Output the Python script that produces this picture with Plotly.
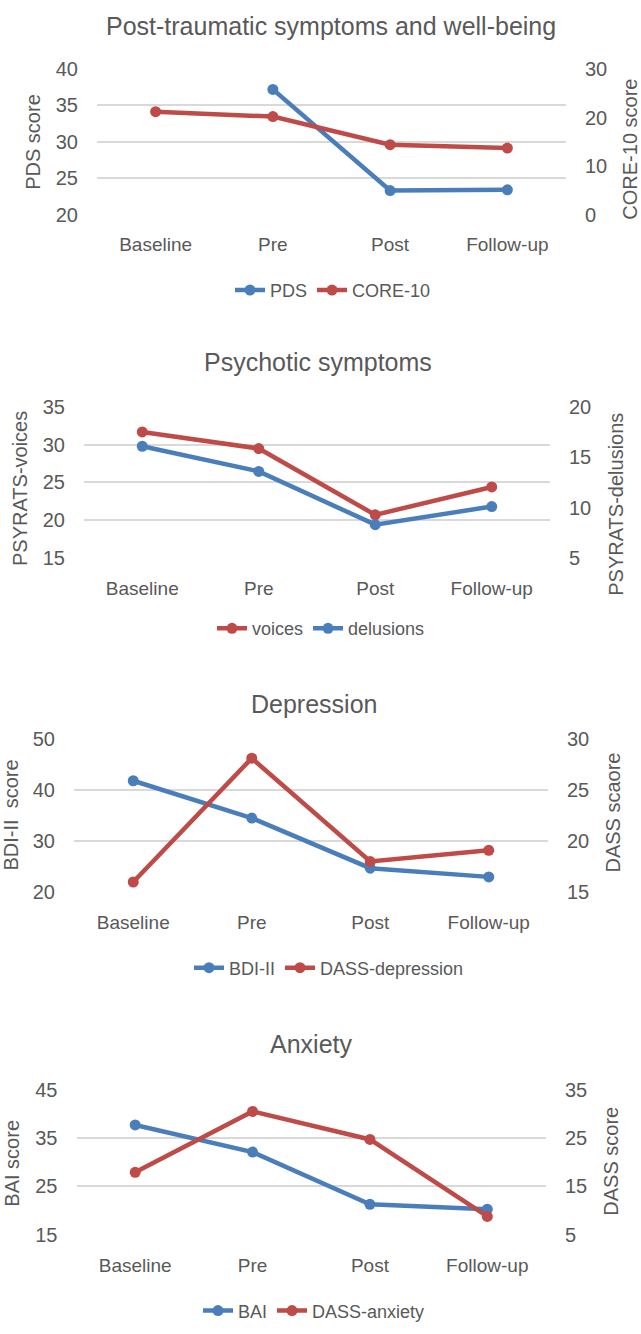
import plotly.graph_objects as go

W, H = 641, 1334

categories = ["Baseline", "Pre", "Post", "Follow-up"]

# Chart 1: Post-traumatic symptoms and well-being
pds = [None, 37.2, 23.3, 23.4]
core10 = [21.2, 20.2, 14.4, 13.7]
# Chart 2: Psychotic symptoms
voices = [31.7, 29.5, 20.7, 24.4]
delusions = [16.1, 13.6, 8.3, 10.1]
# Chart 3: Depression
bdi = [41.8, 34.5, 24.7, 23.0]
dass_dep = [16.0, 28.1, 18.0, 19.1]
# Chart 4: Anxiety
bai = [37.7, 32.1, 21.3, 20.3]
dass_anx = [17.9, 30.5, 24.7, 8.8]

BLUE = "#4a7ebb"
RED = "#be4b48"
GRAY = "#595959"
FONT = "Liberation Sans"

charts = [
    dict(title="Post-traumatic symptoms and well-being",
         left_title="PDS score", right_title="CORE-10 score",
         left_range=[20, 40], left_dtick=5, right_range=[0, 30], right_dtick=10,
         series=[("PDS", pds, BLUE, "left"), ("CORE-10", core10, RED, "right")],
         px=(97, 566), py=(59, 207), title_xy=(331, 15),
         lt_xy=(33, 133), rt_xy=(630, 141), leg_xy=(333, 284)),
    dict(title="Psychotic symptoms",
         left_title="PSYRATS-voices", right_title="PSYRATS-delusions",
         left_range=[15, 35], left_dtick=5, right_range=[5, 20], right_dtick=5,
         series=[("voices", voices, RED, "left"), ("delusions", delusions, BLUE, "right")],
         px=(84, 550), py=(402.7, 556), title_xy=(318, 357),
         lt_xy=(20, 486), rt_xy=(616, 502), leg_xy=(321, 628)),
    dict(title="Depression",
         left_title="BDI-II  score", right_title="DASS scaore",
         left_range=[20, 50], left_dtick=10, right_range=[15, 30], right_dtick=5,
         series=[("BDI-II", bdi, BLUE, "left"), ("DASS-depression", dass_dep, RED, "right")],
         px=(74, 548), py=(740, 896), title_xy=(314, 705),
         lt_xy=(11, 818), rt_xy=(613, 815), leg_xy=(329, 973)),
    dict(title="Anxiety",
         left_title="BAI score", right_title="DASS score",
         left_range=[15, 45], left_dtick=10, right_range=[5, 35], right_dtick=10,
         series=[("BAI", bai, BLUE, "left"), ("DASS-anxiety", dass_anx, RED, "right")],
         px=(76.5, 546), py=(1096.7, 1244.3), title_xy=(311, 1050.7),
         lt_xy=(12, 1172), rt_xy=(611, 1170), leg_xy=(314, 1321.7)),
]

fig = go.Figure()
layout = {}
annotations = []


def fx(x):
    return x / W


def fy(y):
    return 1 - y / H


for i, c in enumerate(charts):
    xn = "" if i == 0 else str(i + 1)
    yl = str(2 * i + 1) if i > 0 else ""
    yr = str(2 * i + 2)
    legname = "legend" if i == 0 else f"legend{i + 1}"
    xdom = [fx(c["px"][0]), fx(c["px"][1])]
    ydom = [fy(c["py"][1]), fy(c["py"][0])]

    layout[f"xaxis{xn}"] = dict(
        domain=xdom, anchor=f"y{yl}", type="category",
        categoryorder="array", categoryarray=categories,
        range=[-0.5, 3.5], showgrid=False, showline=False, zeroline=False,
        ticks="outside", ticklen=13, tickcolor="rgba(0,0,0,0)",
        tickfont=dict(family=FONT, size=19, color=GRAY),
    )
    layout[f"yaxis{yl}"] = dict(
        domain=ydom, anchor=f"x{xn}", range=c["left_range"],
        tick0=c["left_range"][0], dtick=c["left_dtick"],
        showgrid=True, gridcolor="#d9d9d9", gridwidth=2,
        zeroline=False, showline=False,
        ticks="outside", ticklen=14, tickcolor="rgba(0,0,0,0)",
        tickfont=dict(family=FONT, size=20, color=GRAY),
    )
    layout[f"yaxis{yr}"] = dict(
        domain=ydom, anchor=f"x{xn}", overlaying=f"y{yl}", side="right",
        range=c["right_range"], tick0=c["right_range"][0], dtick=c["right_dtick"],
        showgrid=False, zeroline=False, showline=False,
        ticks="outside", ticklen=14, tickcolor="rgba(0,0,0,0)",
        tickfont=dict(family=FONT, size=20, color=GRAY),
    )
    layout[legname] = dict(
        orientation="h", x=fx(c["leg_xy"][0]), xanchor="center",
        y=fy(c["leg_xy"][1]), yanchor="middle", xref="paper", yref="paper",
        font=dict(family=FONT, size=18, color=GRAY),
        bgcolor="rgba(0,0,0,0)", traceorder="normal",
    )

    for name, vals, color, side in c["series"]:
        fig.add_trace(go.Scatter(
            x=categories, y=vals, name=name, mode="lines+markers",
            line=dict(color=color, width=4.5),
            marker=dict(color=color, size=11),
            xaxis=f"x{xn}", yaxis=f"y{yl}" if side == "left" else f"y{yr}",
            legend=legname, cliponaxis=False, connectgaps=False,
        ))

    annotations.append(dict(
        text=c["title"], x=fx(c["title_xy"][0]), y=fy(c["title_xy"][1]),
        xref="paper", yref="paper", showarrow=False, xanchor="center", yanchor="middle",
        font=dict(family=FONT, size=25, color=GRAY)))
    annotations.append(dict(
        text=c["left_title"], x=fx(c["lt_xy"][0]), y=fy(c["lt_xy"][1]),
        xref="paper", yref="paper", showarrow=False, xanchor="center", yanchor="middle",
        textangle=-90, font=dict(family=FONT, size=20, color=GRAY)))
    annotations.append(dict(
        text=c["right_title"], x=fx(c["rt_xy"][0]), y=fy(c["rt_xy"][1]),
        xref="paper", yref="paper", showarrow=False, xanchor="center", yanchor="middle",
        textangle=-90, font=dict(family=FONT, size=20, color=GRAY)))

fig.update_layout(
    width=W, height=H, autosize=False,
    margin=dict(l=0, r=0, t=0, b=0),
    paper_bgcolor="white", plot_bgcolor="white",
    annotations=annotations, showlegend=True,
    font=dict(family=FONT, color=GRAY),
    **layout,
)

fig.write_html(
    "out.html",
    config={"displayModeBar": False},
    post_script="document.body.style.margin='0';document.body.style.padding='0';",
)
